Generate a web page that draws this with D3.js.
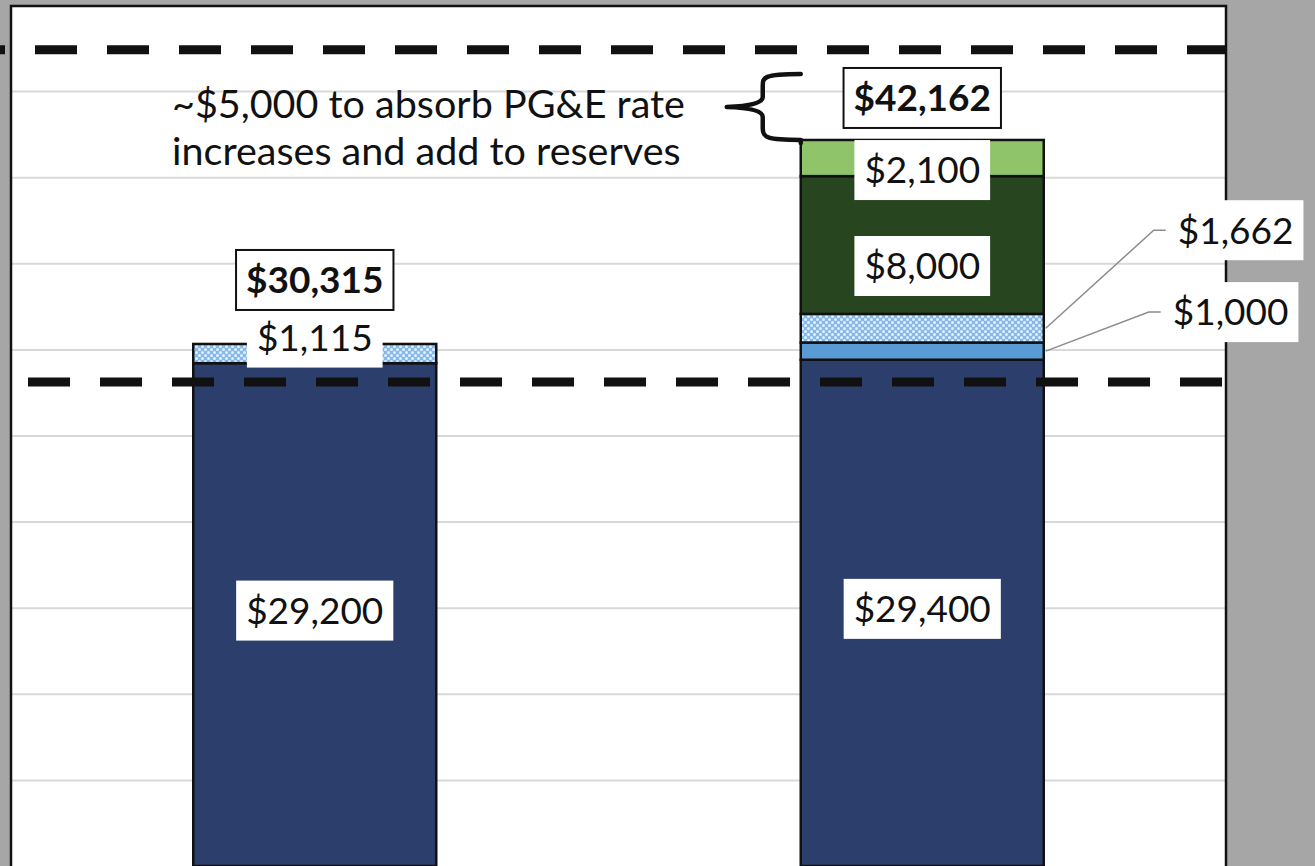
<!DOCTYPE html>
<html>
<head>
<meta charset="utf-8">
<script src="https://cdn.jsdelivr.net/npm/d3@7"></script>
<style>
  html, body { margin: 0; padding: 0; background: #a6a6a6; }
  svg { display: block; }
  text { font-family: Lato, "Open Sans", sans-serif; fill: #111; }
</style>
</head>
<body>
<svg id="chart"></svg>
<script>
// Budget per year, stacked by component.
const categories = ["Current", "Proposed"];
const baseBudget = [29200, 29400];
const rateIncrease = [0, 1000];
const otherIncrease = [1115, 1662];
const newProgram = [0, 8000];
const reserves = [0, 2100];
const totals = [30315, 42162];
const gridValues = [5000, 10000, 15000, 20000, 25000, 30000, 35000, 40000, 45000];
const refLines = [47400, 28100];
const noteLines = ["~$5,000 to absorb PG&E rate", "increases and add to reserves"];
const braceTop = 46000;

const keys = ["base", "rate", "other", "program", "reserves"];
const colors = {base: "#2b3e6c", rate: "#5b9bd5", other: "url(#dots)", program: "#27461f", reserves: "#8fc46a"};

// Label tweaks, so they sit where the original put them.
const nudge = {
  "0-base": {dy: -4}, "1-base": {dy: -4},
  "0-other": {dy: -16},
  "1-rate": {dx: 119, dy: -39, leader: true},
  "1-other": {dx: 124, dy: -98, leader: true},
  "1-program": {dy: 21},
  "1-reserves": {dy: 12}
};
const totalNudge = [-64, -42];

const width = 1315, height = 866;
const plot = {left: 11, right: 1226, top: 6};
const fmt = d3.format("$,");

const table = categories.map((c, i) => ({
  category: c, base: baseBudget[i], rate: rateIncrease[i], other: otherIncrease[i],
  program: newProgram[i], reserves: reserves[i]
}));
const stacked = d3.stack().keys(keys)(table);

const x = d3.scaleBand().domain(categories).range([plot.left, plot.right])
  .paddingInner(0.6).paddingOuter(0.3);
const y = d3.scaleLinear().domain([0, 50000]).range([866, 5]);

const svg = d3.select("#chart").attr("width", width).attr("height", height);

// Dotted fill for the small increase.
const pat = svg.append("defs").append("pattern").attr("id", "dots")
  .attr("width", 6).attr("height", 6).attr("patternUnits", "userSpaceOnUse");
pat.append("rect").attr("width", 6).attr("height", 6).attr("fill", "#86b8e8");
pat.append("circle").attr("cx", 1.5).attr("cy", 1.5).attr("r", 1.5).attr("fill", "#e4f0fb");
pat.append("circle").attr("cx", 4.5).attr("cy", 4.5).attr("r", 1.5).attr("fill", "#e4f0fb");

svg.append("rect").attr("width", width).attr("height", height).attr("fill", "#a6a6a6");
svg.append("rect").attr("x", plot.left).attr("y", plot.top)
  .attr("width", plot.right - plot.left).attr("height", height).attr("fill", "#fff");

// Gridlines.
const grid = svg.append("g").attr("transform", `translate(${plot.left},0)`)
  .call(d3.axisLeft(y).tickValues(gridValues).tickSize(-(plot.right - plot.left)).tickFormat(""));
grid.select(".domain").remove();
grid.selectAll("line").attr("stroke", "#d9d9d9").attr("stroke-width", 2);

// Bars.
const layers = svg.append("g").selectAll("g").data(stacked).join("g")
  .attr("fill", d => colors[d.key]);
layers.selectAll("rect").data(d => d.filter(s => s[1] > s[0])).join("rect")
  .attr("x", d => x(d.data.category))
  .attr("width", x.bandwidth())
  .attr("y", d => y(d[1]))
  .attr("height", d => y(d[0]) - y(d[1]))
  .attr("stroke", "#111").attr("stroke-width", 2.5);

// Thick dashed reference lines.
svg.append("line").attr("x1", 0).attr("x2", plot.right)
  .attr("y1", y(refLines[0])).attr("y2", y(refLines[0]))
  .attr("stroke", "#111").attr("stroke-width", 9)
  .attr("stroke-dasharray", "42 30").attr("stroke-dashoffset", 37);
svg.append("line").attr("x1", plot.left + 17).attr("x2", plot.right - 4)
  .attr("y1", y(refLines[1])).attr("y2", y(refLines[1]))
  .attr("stroke", "#111").attr("stroke-width", 9)
  .attr("stroke-dasharray", "42 30");

// Plot frame.
svg.append("rect").attr("x", plot.left).attr("y", plot.top)
  .attr("width", plot.right - plot.left).attr("height", height)
  .attr("fill", "none").attr("stroke", "#111").attr("stroke-width", 2.5);

const labels = svg.append("g");

function boxLabel(cx, cy, text, opts) {
  const t = labels.append("text").attr("x", cx).attr("y", cy).attr("dy", "0.36em")
    .attr("text-anchor", opts.anchor || "middle")
    .attr("font-size", 37).attr("font-weight", opts.bold ? 700 : 400)
    .text(text);
  const b = t.node().getBBox();
  labels.insert("rect", () => t.node())
    .attr("x", b.x - 10).attr("y", cy - 30)
    .attr("width", b.width + 20).attr("height", 60)
    .attr("fill", "#fff")
    .attr("stroke", opts.bold ? "#111" : "none").attr("stroke-width", 2);
}

stacked.forEach(layer => {
  layer.forEach((s, i) => {
    if (s[1] <= s[0]) return;
    const n = nudge[`${i}-${layer.key}`] || {};
    const mid = (y(s[0]) + y(s[1])) / 2;
    const cat = s.data.category;
    if (n.leader) {
      const x0 = x(cat) + x.bandwidth() + 2;
      const lx = x(cat) + x.bandwidth() + n.dx;
      const ly = mid + n.dy;
      labels.append("polyline")
        .attr("points", [[x0, mid], [lx - 14, ly], [lx - 2, ly]].map(p => p.join(",")).join(" "))
        .attr("fill", "none").attr("stroke", "#8c8c8c").attr("stroke-width", 1.5);
      boxLabel(lx + 10, ly, fmt(s[1] - s[0]), {anchor: "start"});
    } else {
      boxLabel(x(cat) + x.bandwidth() / 2, mid + (n.dy || 0), fmt(s[1] - s[0]), {});
    }
  });
});

totals.forEach((v, i) => {
  boxLabel(x(categories[i]) + x.bandwidth() / 2, y(v) + totalNudge[i], fmt(v), {bold: true});
});

// Annotation with curly brace pointing at the new reserves.
svg.append("g").selectAll("text").data(noteLines).join("text")
  .attr("x", 172).attr("y", (d, i) => 118 + i * 47)
  .attr("font-size", 39.5).text(d => d);

const braceX = x(categories[1]);
const braceY0 = y(braceTop), braceY1 = y(totals[1]), braceMid = (braceY0 + braceY1) / 2;
const armX = braceX - 38, tipX = braceX - 74;
const p = d3.path();
p.moveTo(braceX, braceY0);
p.bezierCurveTo(armX - 2, braceY0, armX, braceY0 + 4, armX, braceY0 + 14);
p.lineTo(armX, braceMid - 10);
p.quadraticCurveTo(armX, braceMid - 1, tipX, braceMid);
p.moveTo(tipX, braceMid);
p.quadraticCurveTo(armX, braceMid + 1, armX, braceMid + 10);
p.lineTo(armX, braceY1 - 12);
p.bezierCurveTo(armX, braceY1 - 2, armX + 4, braceY1, braceX, braceY1);
p.lineTo(braceX, braceY1 + 3);
svg.append("path").attr("d", p.toString())
  .attr("fill", "none").attr("stroke", "#111").attr("stroke-width", 4.5)
  .attr("stroke-linecap", "round").attr("stroke-linejoin", "round");
</script>
</body>
</html>
